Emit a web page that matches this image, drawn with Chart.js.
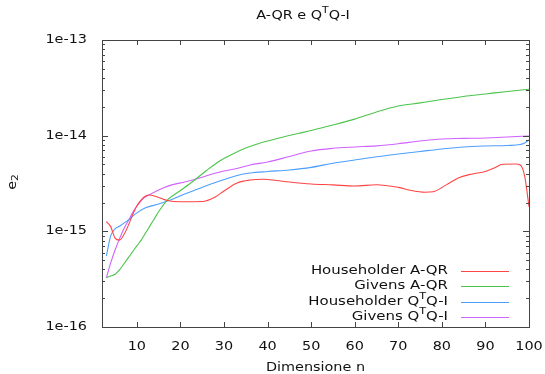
<!DOCTYPE html>
<html>
<head>
<meta charset="utf-8">
<script src="https://cdn.jsdelivr.net/npm/chart.js@4"></script>
<style>
  html, body { margin: 0; padding: 0; background: #fff; }
  canvas { display: block; }
</style>
</head>
<body>
<canvas id="errChart" width="545" height="374"></canvas>
<script>
// errore e2 in funzione della dimensione n
const hhAqrN = [3, 4, 5, 6, 7, 8, 9, 10, 11, 12, 13, 15, 17, 20, 25, 28, 30, 33, 36, 39, 42, 45, 50, 55, 60, 65, 70, 73, 76, 78, 81, 84, 87, 90, 92, 94, 97, 98, 99, 100];
const hhAqr = [1.26e-15, 1.12e-15, 8.5e-16, 8.1e-16, 9.2e-16, 1.14e-15, 1.48e-15, 1.84e-15, 2.13e-15, 2.34e-15, 2.4e-15, 2.26e-15, 2.10e-15, 2.04e-15, 2.05e-15, 2.29e-15, 2.64e-15, 3.2e-15, 3.44e-15, 3.5e-15, 3.4e-15, 3.28e-15, 3.13e-15, 3.06e-15, 2.98e-15, 3.07e-15, 2.88e-15, 2.67e-15, 2.56e-15, 2.59e-15, 3.06e-15, 3.66e-15, 3.98e-15, 4.23e-15, 4.6e-15, 5.03e-15, 5.05e-15, 4.94e-15, 3.8e-15, 1.81e-15];

const givAqrN = [3, 4, 5, 6, 7, 8, 9, 10, 11, 12, 13, 14, 15, 17, 20, 23, 26, 29, 32, 35, 38, 41, 44, 47, 50, 55, 60, 65, 70, 75, 80, 85, 90, 95, 100];
const givAqr = [3.28e-16, 3.42e-16, 3.56e-16, 3.95e-16, 4.56e-16, 5.27e-16, 6.09e-16, 7.04e-16, 8.1e-16, 9.6e-16, 1.14e-15, 1.35e-15, 1.6e-15, 2.13e-15, 2.67e-15, 3.36e-15, 4.33e-15, 5.44e-15, 6.44e-15, 7.43e-15, 8.29e-15, 9.02e-15, 9.81e-15, 1.054e-14, 1.13e-14, 1.29e-14, 1.49e-14, 1.77e-14, 2.04e-14, 2.2e-14, 2.39e-14, 2.57e-14, 2.73e-14, 2.9e-14, 3.06e-14];

const hhQtqN = [3, 4, 5, 6, 8, 10, 12, 15, 18, 21, 24, 27, 30, 33, 36, 40, 45, 50, 55, 60, 65, 70, 75, 80, 85, 90, 95, 98, 99, 100];
const hhQtq = [5.53e-16, 8.95e-16, 1.06e-15, 1.13e-15, 1.31e-15, 1.56e-15, 1.76e-15, 1.93e-15, 2.15e-15, 2.46e-15, 2.77e-15, 3.13e-15, 3.48e-15, 3.84e-15, 4.07e-15, 4.22e-15, 4.38e-15, 4.66e-15, 5.15e-15, 5.57e-15, 6.02e-15, 6.44e-15, 6.84e-15, 7.26e-15, 7.62e-15, 7.8e-15, 7.9e-15, 8.09e-15, 8.39e-15, 9.02e-15];

const givQtqN = [3, 4, 5, 6, 7, 8, 9, 10, 11, 12, 13, 15, 18, 21, 24, 27, 30, 33, 36, 40, 45, 50, 55, 60, 65, 70, 75, 80, 85, 90, 95, 100];
const givQtq = [3.26e-16, 4.68e-16, 6.39e-16, 8.34e-16, 1.06e-15, 1.28e-15, 1.56e-15, 1.84e-15, 2.1e-15, 2.29e-15, 2.43e-15, 2.71e-15, 3.06e-15, 3.28e-15, 3.57e-15, 3.93e-15, 4.28e-15, 4.54e-15, 4.94e-15, 5.31e-15, 6.06e-15, 6.92e-15, 7.38e-15, 7.62e-15, 7.83e-15, 8.24e-15, 8.81e-15, 9.24e-15, 9.36e-15, 9.46e-15, 9.68e-15, 9.93e-15];

const seriesLabels = ['Householder A-QR', 'Givens A-QR', 'Householder Q^TQ-I', 'Givens Q^TQ-I'];
const seriesColors = ['#ff4444', '#4cc44c', '#4d9fff', '#d062ff'];

const xTicks = [10, 20, 30, 40, 50, 60, 70, 80, 90, 100];
const yTicks = [1e-16, 1e-15, 1e-14, 1e-13];
const yTickLabels = ['1e-16', '1e-15', '1e-14', '1e-13'];

// testo in stile gnuplot: '^X' apice, '_X' pedice, leggermente allargato
const FONT = '12px "DejaVu Sans"';
const SMALL = '9px "DejaVu Sans"';
const SX = 1.2;

const splitRich = (str) => {
    const parts = [];
    for (let i = 0; i < str.length; i++) {
        const c = str[i];
        if ((c === '^' || c === '_') && i + 1 < str.length) {
            parts.push({ t: str[i + 1], dy: c === '^' ? -5 : 3, small: true });
            i++;
        } else if (parts.length && !parts[parts.length - 1].small) {
            parts[parts.length - 1].t += c;
        } else {
            parts.push({ t: c, dy: 0, small: false });
        }
    }
    return parts;
};

const richText = (ctx, str, x, y, align, sx = SX) => {
    const parts = splitRich(str);
    let w = 0;
    parts.forEach(p => {
        ctx.font = p.small ? SMALL : FONT;
        p.w = ctx.measureText(p.t).width;
        w += p.w;
    });
    let x0 = x;
    if (align === 'center') x0 = x - w * sx / 2;
    if (align === 'right') x0 = x - w * sx;
    ctx.save();
    ctx.translate(x0, y);
    ctx.scale(sx, 1);
    ctx.textBaseline = 'middle';
    ctx.textAlign = 'left';
    ctx.fillStyle = '#111';
    let cx = 0;
    parts.forEach(p => {
        ctx.font = p.small ? SMALL : FONT;
        ctx.fillText(p.t, cx, p.dy);
        cx += p.w;
    });
    ctx.restore();
};

// bordo, tacche interne, etichette, titolo e legenda
const gnuplotFrame = {
    id: 'gnuplotFrame',
    afterDraw(chart) {
        const ctx = chart.ctx;
        const { left, right, top, bottom } = chart.chartArea;
        const xs = chart.scales.x;
        const ys = chart.scales.y;

        ctx.save();
        ctx.strokeStyle = '#444';
        ctx.lineWidth = 1;
        ctx.beginPath();

        xTicks.forEach(v => {
            const px = Math.round(xs.getPixelForValue(v)) + 0.5;
            ctx.moveTo(px, bottom); ctx.lineTo(px, bottom - 5);
            ctx.moveTo(px, top); ctx.lineTo(px, top + 5);
        });
        yTicks.forEach(v => {
            const py = Math.round(ys.getPixelForValue(v)) + 0.5;
            ctx.moveTo(left, py); ctx.lineTo(left + 6, py);
            ctx.moveTo(right, py); ctx.lineTo(right - 6, py);
        });
        for (let d = -16; d < -13; d++) {
            for (let k = 2; k <= 9; k++) {
                const py = Math.round(ys.getPixelForValue(k * Math.pow(10, d))) + 0.5;
                ctx.moveTo(left, py); ctx.lineTo(left + 3, py);
                ctx.moveTo(right, py); ctx.lineTo(right - 3, py);
            }
        }
        ctx.stroke();
        ctx.strokeRect(Math.round(left) + 0.5, Math.round(top) + 0.5, Math.round(right - left), Math.round(bottom - top));
        ctx.restore();

        xTicks.forEach(v => richText(ctx, String(v), xs.getPixelForValue(v), 347, 'center'));
        yTicks.forEach((v, i) => richText(ctx, yTickLabels[i], 87, ys.getPixelForValue(v), 'right'));

        richText(ctx, 'A-QR e Q^TQ-I', 303, 16, 'center');
        richText(ctx, 'Dimensione n', (left + right) / 2, 368, 'center');

        ctx.save();
        ctx.translate(13, 182);
        ctx.rotate(-Math.PI / 2);
        richText(ctx, 'e_2', 0, 0, 'center');
        ctx.restore();

        // legenda: testo allineato a destra, campione di linea a destra
        chart.data.datasets.forEach((ds, i) => {
            const ly = 271 + i * 15.3;
            richText(ctx, seriesLabels[i], 448, ly, 'right', 1.245);
            ctx.save();
            ctx.strokeStyle = ds.borderColor;
            ctx.lineWidth = 1;
            ctx.beginPath();
            ctx.moveTo(461, Math.round(ly) + 0.5);
            ctx.lineTo(509, Math.round(ly) + 0.5);
            ctx.stroke();
            ctx.restore();
        });
    }
};

const toPoints = (xs, ys) => xs.map((x, i) => ({ x: x, y: ys[i] }));

const ctx = document.getElementById('errChart');

new Chart(ctx, {
    type: 'line',
    data: {
        datasets: [
            { label: seriesLabels[0], data: toPoints(hhAqrN, hhAqr), borderColor: seriesColors[0] },
            { label: seriesLabels[1], data: toPoints(givAqrN, givAqr), borderColor: seriesColors[1] },
            { label: seriesLabels[2], data: toPoints(hhQtqN, hhQtq), borderColor: seriesColors[2] },
            { label: seriesLabels[3], data: toPoints(givQtqN, givQtq), borderColor: seriesColors[3] },
        ]
    },
    options: {
        responsive: false,
        animation: false,
        layout: { padding: { top: 40, right: 16, left: 0, bottom: 0 } },
        elements: {
            point: { radius: 0 },
            line: { borderWidth: 1.1, fill: false, cubicInterpolationMode: 'monotone' }
        },
        plugins: {
            legend: { display: false },
            title: { display: false },
            tooltip: { enabled: false }
        },
        scales: {
            x: {
                type: 'linear',
                min: 2,
                max: 100,
                grid: { display: false, drawTicks: false },
                border: { display: false },
                ticks: { display: false },
                afterBuildTicks: s => { s.ticks = xTicks.map(v => ({ value: v })); },
                afterFit: s => { s.height = 47; }
            },
            y: {
                type: 'logarithmic',
                min: 1e-16,
                max: 1e-13,
                grid: { display: false, drawTicks: false },
                border: { display: false },
                ticks: { display: false },
                afterBuildTicks: s => { s.ticks = yTicks.map(v => ({ value: v })); },
                afterFit: s => { s.width = 102; }
            }
        }
    },
    plugins: [gnuplotFrame]
});
</script>
</body>
</html>
